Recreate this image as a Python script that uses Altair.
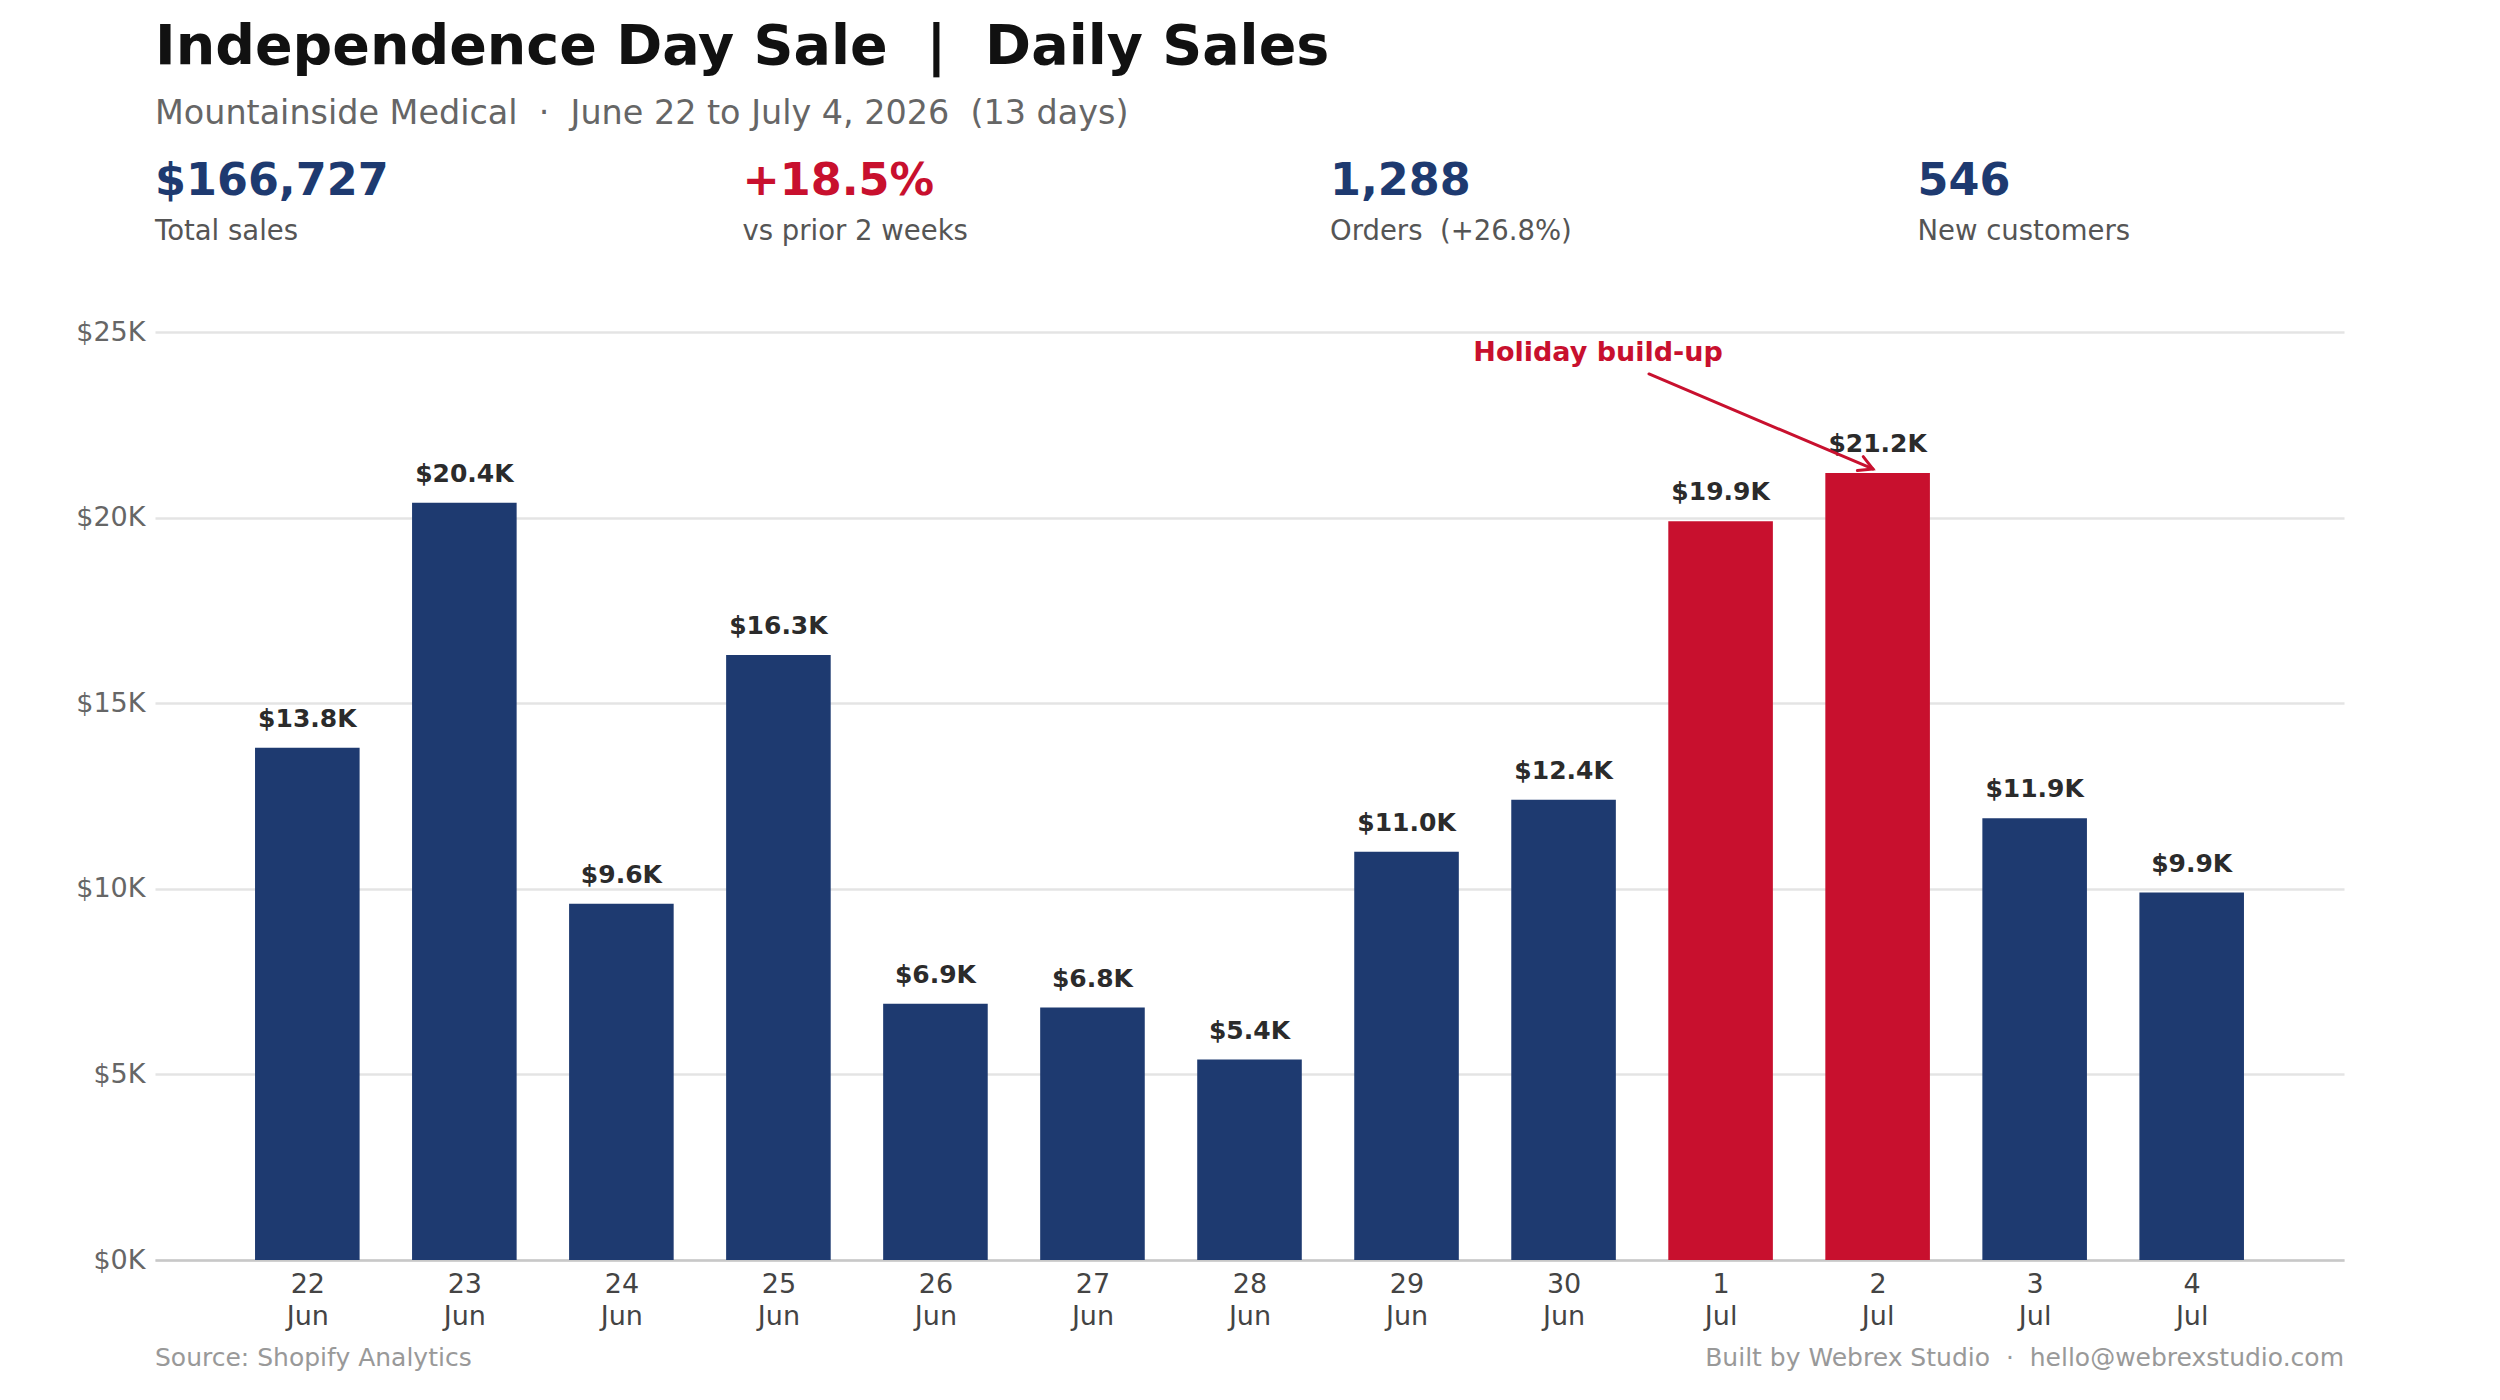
import math

import altair as alt
import pandas as pd

# ---- data -------------------------------------------------------------
days = ["22", "23", "24", "25", "26", "27", "28", "29", "30", "1", "2", "3", "4"]
months = ["Jun"] * 9 + ["Jul"] * 4
sales = [13800, 20400, 9600, 16300, 6900, 6800, 5400, 11000, 12400,
         19900, 21200, 11900, 9900]
holiday_days = ["1 Jul", "2 Jul"]

kpi_values = ["$166,727", "+18.5%", "1,288", "546"]
kpi_labels = ["Total sales", "vs prior 2 weeks", "Orders \u00a0(+26.8%)", "New customers"]

title_text = "Independence Day Sale \u00a0|\u00a0 Daily Sales"
subtitle_text = ("Mountainside Medical \u00a0·\u00a0 June 22 to July 4, 2026 \u00a0(13 days)")
source_text = "Source: Shopify Analytics"
credit_text = "Built by Webrex Studio \u00a0·\u00a0 hello@webrexstudio.com"
annotation_text = "Holiday build-up"

# ---- styling ------------------------------------------------------------
NAVY = "#1E3A70"
RED = "#C8102E"
FONT = "DejaVu Sans"
kpi_colors = [NAVY, RED, NAVY, NAVY]

W, H = 2189, 928
X_MIN, X_MAX = -0.97, 12.97
Y_MAX = 25000
px_per_x = W / (X_MAX - X_MIN)
px_per_y = H / Y_MAX

df = pd.DataFrame({
    "idx": list(range(len(days))),
    "day": days,
    "month": months,
    "sales": sales,
})
df["key"] = df["day"] + " " + df["month"]
df["group"] = ["Holiday" if k in holiday_days else "Regular" for k in df["key"]]
df["label"] = [f"${v / 1000:.1f}K" for v in df["sales"]]

xscale = alt.Scale(domain=[X_MIN, X_MAX], nice=False, zero=False)
yscale = alt.Scale(domain=[0, Y_MAX], nice=False)

label_lines = ",".join(f"['{d}','{m}']" for d, m in zip(days, months))
xaxis = alt.Axis(
    title=None,
    values=list(range(len(days))),
    labelExpr=f"[{label_lines}][datum.value]",
    grid=False,
    ticks=False,
    domain=True,
    domainColor="#c8c8c8",
    domainWidth=2.5,
    labelFontSize=27,
    labelColor="#444444",
    labelPadding=11,
    labelLineHeight=32,
    labelFont=FONT,
)
yaxis = alt.Axis(
    title=None,
    values=[0, 5000, 10000, 15000, 20000, 25000],
    labelExpr="'$' + format(datum.value / 1000, 'd') + 'K'",
    grid=True,
    gridColor="#e4e4e4",
    gridWidth=2.5,
    ticks=False,
    domain=False,
    labelFontSize=27,
    labelColor="#666666",
    labelPadding=10,
    labelFont=FONT,
)

# ---- bars and value labels -------------------------------------------
bars = (
    alt.Chart(df)
    .transform_calculate(x0="datum.idx - 0.333", x1="datum.idx + 0.333")
    .mark_bar()
    .encode(
        x=alt.X("x0:Q", scale=xscale, axis=xaxis),
        x2="x1:Q",
        y=alt.Y("sales:Q", scale=yscale, axis=yaxis),
        y2=alt.datum(0),
        color=alt.Color(
            "group:N",
            scale=alt.Scale(domain=["Regular", "Holiday"], range=[NAVY, RED]),
            legend=None,
        ),
    )
)

value_labels = (
    alt.Chart(df)
    .mark_text(font=FONT, fontSize=25, fontWeight="bold", color="#2b2b2b",
               baseline="alphabetic", dy=-21)
    .encode(
        x=alt.X("idx:Q", scale=xscale, axis=xaxis),
        y=alt.Y("sales:Q", scale=yscale, axis=yaxis),
        text="label:N",
    )
)

# ---- annotation: text + arrow pointing at the 2 Jul bar ----------------
peak = df.loc[df["sales"].idxmax()]
arrow_start = (8.544, 23870)
arrow_tip = (float(peak["idx"]) - 0.03, float(peak["sales"]) + 110)
text_anchor = (8.22, 24230)

annot_df = pd.DataFrame({"x": [text_anchor[0]], "y": [text_anchor[1]],
                         "text": [annotation_text]})
arrow_df = pd.DataFrame({"x": [arrow_start[0]], "y": [arrow_start[1]],
                         "x2": [arrow_tip[0]], "y2": [arrow_tip[1]]})

dx_px = (arrow_tip[0] - arrow_start[0]) * px_per_x
dy_px = (arrow_start[1] - arrow_tip[1]) * px_per_y
arrow_angle = math.degrees(math.atan2(dy_px, dx_px)) % 360

annot_text = (
    alt.Chart(annot_df)
    .mark_text(font=FONT, fontSize=27, fontWeight="bold", color=RED,
               baseline="alphabetic", align="center")
    .encode(
        x=alt.X("x:Q", scale=xscale, axis=xaxis),
        y=alt.Y("y:Q", scale=yscale, axis=yaxis),
        text="text:N",
    )
)

arrow_line = (
    alt.Chart(arrow_df)
    .mark_rule(color=RED, strokeWidth=3, strokeCap="round")
    .encode(
        x=alt.X("x:Q", scale=xscale, axis=xaxis),
        y=alt.Y("y:Q", scale=yscale, axis=yaxis),
        x2="x2:Q",
        y2="y2:Q",
    )
)

arrow_head = (
    alt.Chart(arrow_df)
    .mark_point(
        shape="M -1 -0.55 L 0 0 L -1 0.55",
        filled=False,
        stroke=RED,
        strokeWidth=3,
        strokeCap="round",
        strokeJoin="miter",
        size=750,
        angle=arrow_angle,
        opacity=1,
    )
    .encode(
        x=alt.X("x2:Q", scale=xscale, axis=xaxis),
        y=alt.Y("y2:Q", scale=yscale, axis=yaxis),
    )
)


# ---- header, KPI row and footer (placed relative to the plot area) ------
def text_layer(text, x, y, size, color, weight="normal", align="left"):
    return (
        alt.Chart(pd.DataFrame({"t": [text]}))
        .mark_text(font=FONT, fontSize=size, fontWeight=weight, color=color,
                   align=align, baseline="alphabetic")
        .encode(x=alt.value(x), y=alt.value(y), text="t:N")
    )


header_layers = [
    text_layer(title_text, 0, -268, 55.5, "#111111", "bold"),
    text_layer(subtitle_text, 0, -208, 33.4, "#666666"),
]
kpi_step = 587.5
for i, (val, lab, col) in enumerate(zip(kpi_values, kpi_labels, kpi_colors)):
    header_layers.append(text_layer(val, i * kpi_step, -137, 44.5, col, "bold"))
    header_layers.append(text_layer(lab, i * kpi_step, -92, 27.5, "#555555"))

footer_layers = [
    text_layer(source_text, 0, 1034, 25, "#999999"),
    text_layer(credit_text, W, 1034, 25, "#999999", align="right"),
]

chart = (
    alt.layer(bars, value_labels, arrow_line, arrow_head, annot_text,
              *header_layers, *footer_layers)
    .properties(
        width=W,
        height=H,
        autosize=alt.AutoSizeParams(type="none"),
        padding={"left": 155, "top": 332, "right": 156, "bottom": 140},
        background="white",
    )
    .configure(font=FONT)
    .configure_view(strokeWidth=0, stroke="transparent")
)

chart.save("out.html", embed_options={"renderer": "svg", "actions": False})
